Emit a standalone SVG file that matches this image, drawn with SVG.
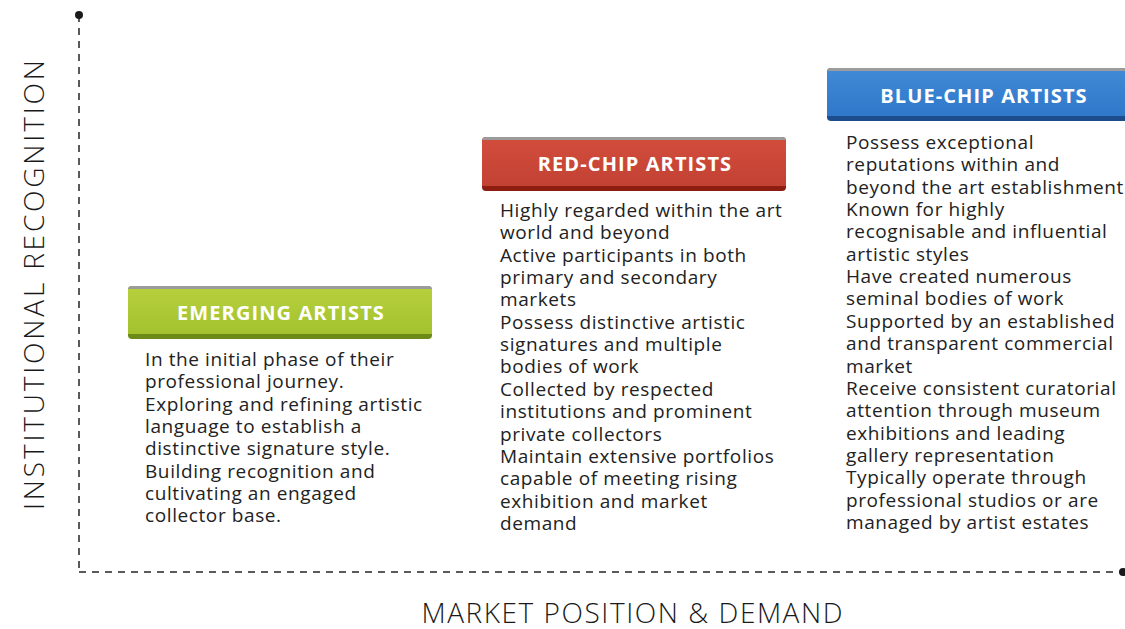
<svg xmlns="http://www.w3.org/2000/svg" width="1125" height="629" viewBox="0 0 1125 629">
  <defs>
    <linearGradient id="gGreen" x1="0" y1="0" x2="0" y2="1">
      <stop offset="0" stop-color="#b6d03c"/>
      <stop offset="1" stop-color="#a3c22e"/>
    </linearGradient>
    <linearGradient id="gRed" x1="0" y1="0" x2="0" y2="1">
      <stop offset="0" stop-color="#d24c3c"/>
      <stop offset="1" stop-color="#c24234"/>
    </linearGradient>
    <linearGradient id="gBlue" x1="0" y1="0" x2="0" y2="1">
      <stop offset="0" stop-color="#3f89d6"/>
      <stop offset="1" stop-color="#3078c9"/>
    </linearGradient>
  </defs>
  <style>
    .axis { stroke: #5a5a5a; stroke-width: 2; fill: none; }
    .axis-label { font-family: "Open Sans", "Liberation Sans", sans-serif; font-weight: 300; font-size: 28px; fill: #1a1a1a; }
    .title { font-family: "Open Sans", "Liberation Sans", sans-serif; font-weight: 700; font-size: 20px; letter-spacing: 1.1px; fill: #ffffff; text-anchor: middle; }
    .body { font-family: "Open Sans", "Liberation Sans", sans-serif; font-size: 19px; letter-spacing: 0.6px; fill: #222222; }
    .cap { fill: #9b9b9b; }
  </style>

  <rect width="1125" height="629" fill="#ffffff"/>

  <!-- axes -->
  <g id="connectors">
    <line class="axis" x1="79" y1="15" x2="79" y2="572" stroke-dasharray="7 6"/>
    <line class="axis" x1="79" y1="572" x2="1122" y2="572" stroke-dasharray="7 6"/>
    <circle cx="79" cy="15" r="4" fill="#1a1a1a"/>
    <circle cx="1123" cy="572" r="4" fill="#1a1a1a"/>
  </g>

  <text class="axis-label" transform="translate(44,285) rotate(-90)" text-anchor="middle" textLength="450" lengthAdjust="spacing">INSTITUTIONAL RECOGNITION</text>
  <text class="axis-label" x="632" y="623" text-anchor="middle" textLength="421" lengthAdjust="spacing">MARKET POSITION &amp; DEMAND</text>

  <!-- Emerging -->
  <g id="emerging">
    <rect x="128" y="286" width="304" height="53" rx="4" fill="#6b8a17"/>
    <rect x="128" y="286" width="304" height="48" rx="4" class="cap"/>
    <rect x="128" y="289" width="304" height="45" fill="url(#gGreen)"/>
    <text class="title" x="281" y="320">EMERGING ARTISTS</text>
    <text class="body" x="145" y="366">In the initial phase of their<tspan x="145" dy="22.35">professional journey.</tspan><tspan x="145" dy="22.35">Exploring and refining artistic</tspan><tspan x="145" dy="22.35">language to establish a</tspan><tspan x="145" dy="22.35">distinctive signature style.</tspan><tspan x="145" dy="22.35">Building recognition and</tspan><tspan x="145" dy="22.35">cultivating an engaged</tspan><tspan x="145" dy="22.35">collector base.</tspan></text>
  </g>

  <!-- Red-chip -->
  <g id="red-chip">
    <rect x="482" y="137" width="304" height="54" rx="4" fill="#8c1d10"/>
    <rect x="482" y="137" width="304" height="49" rx="4" class="cap"/>
    <rect x="482" y="140" width="304" height="46" fill="url(#gRed)"/>
    <text class="title" x="635" y="171">RED-CHIP ARTISTS</text>
    <text class="body" x="500" y="217">Highly regarded within the art<tspan x="500" dy="22.35">world and beyond</tspan><tspan x="500" dy="22.35">Active participants in both</tspan><tspan x="500" dy="22.35">primary and secondary</tspan><tspan x="500" dy="22.35">markets</tspan><tspan x="500" dy="22.35">Possess distinctive artistic</tspan><tspan x="500" dy="22.35">signatures and multiple</tspan><tspan x="500" dy="22.35">bodies of work</tspan><tspan x="500" dy="22.35">Collected by respected</tspan><tspan x="500" dy="22.35">institutions and prominent</tspan><tspan x="500" dy="22.35">private collectors</tspan><tspan x="500" dy="22.35">Maintain extensive portfolios</tspan><tspan x="500" dy="22.35">capable of meeting rising</tspan><tspan x="500" dy="22.35">exhibition and market</tspan><tspan x="500" dy="22.35">demand</tspan></text>
  </g>

  <!-- Blue-chip -->
  <g id="blue-chip">
    <rect x="827" y="68" width="310" height="53" rx="4" fill="#1d4c8c"/>
    <rect x="827" y="68" width="310" height="48" rx="4" class="cap"/>
    <rect x="827" y="71" width="310" height="45" fill="url(#gBlue)"/>
    <text class="title" x="984" y="103">BLUE-CHIP ARTISTS</text>
    <text class="body" x="846" y="149">Possess exceptional<tspan x="846" dy="22.35">reputations within and</tspan><tspan x="846" dy="22.35">beyond the art establishment</tspan><tspan x="846" dy="22.35">Known for highly</tspan><tspan x="846" dy="22.35">recognisable and influential</tspan><tspan x="846" dy="22.35">artistic styles</tspan><tspan x="846" dy="22.35">Have created numerous</tspan><tspan x="846" dy="22.35">seminal bodies of work</tspan><tspan x="846" dy="22.35">Supported by an established</tspan><tspan x="846" dy="22.35">and transparent commercial</tspan><tspan x="846" dy="22.35">market</tspan><tspan x="846" dy="22.35">Receive consistent curatorial</tspan><tspan x="846" dy="22.35">attention through museum</tspan><tspan x="846" dy="22.35">exhibitions and leading</tspan><tspan x="846" dy="22.35">gallery representation</tspan><tspan x="846" dy="22.35">Typically operate through</tspan><tspan x="846" dy="22.35">professional studios or are</tspan><tspan x="846" dy="22.35">managed by artist estates</tspan></text>
  </g>
</svg>
